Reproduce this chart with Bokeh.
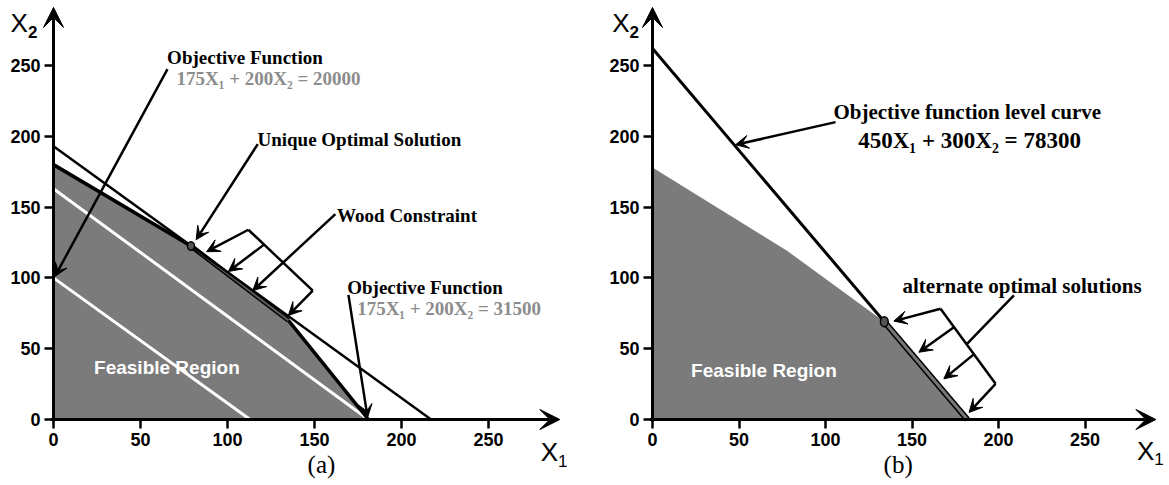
from bokeh.plotting import figure
from bokeh.layouts import row
from bokeh.models import Range1d, Arrow, VeeHead, Label, FixedTicker
from bokeh.embed import file_html
from bokeh.resources import INLINE

# ---------------- data ----------------
tick_values = [0, 50, 100, 150, 200, 250]
axis_end = 291

# panel (a)
a_region_x = [0, 0, 79, 135, 181]
a_region_y = [0, 180, 122.5, 70, 0]
a_top_edge_x = [0, 79]
a_top_edge_y = [180, 122.5]
a_wood_x = [79, 135]
a_wood_y = [122.5, 70]
a_low_edge_x = [135, 181]
a_low_edge_y = [70, 0]
a_obj_opt_x = [0, 217]
a_obj_opt_y = [193, 0]
a_obj_31500_x = [0, 181]
a_obj_31500_y = [163, 0]
a_obj_20000_x = [0, 113]
a_obj_20000_y = [100, 0]
a_opt_x = [79]
a_opt_y = [122.5]

# panel (b)
b_region_x = [0, 0, 78, 134, 182]
b_region_y = [0, 178, 119, 69, 0]
b_obj_x = [0, 134]
b_obj_y = [262, 69]
b_alt_x = [134, 182]
b_alt_y = [69, 0]
b_opt_x = [134]
b_opt_y = [69]

SERIF = "Liberation Serif"
SANS = "Liberation Sans"


def make_fig(width, origin_px, sx, sy=1.416, origin_py=419, height=485):
    # the frame fills the whole canvas; the axes sit at x=0 / y=0 inside it
    x0 = -origin_px / sx
    x1 = (width - origin_px) / sx
    y0 = -(height - origin_py) / sy
    y1 = origin_py / sy
    p = figure(width=width, height=height,
               x_range=Range1d(x0, x1), y_range=Range1d(y0, y1),
               output_backend="svg", toolbar_location=None,
               min_border_left=0, min_border_right=0,
               min_border_top=0, min_border_bottom=0)
    p.grid.visible = False
    p.outline_line_color = None
    p.background_fill_color = "white"
    p.xaxis.fixed_location = 0
    p.yaxis.fixed_location = 0
    for ax in (p.xaxis[0], p.yaxis[0]):
        ax.ticker = FixedTicker(ticks=tick_values)
        ax.axis_line_color = None
        ax.major_tick_out = 9
        ax.major_tick_in = 0
        ax.major_tick_line_width = 2.5
        ax.minor_tick_line_color = None
        ax.major_label_text_font = SANS
        ax.major_label_text_font_style = "bold"
        ax.major_label_text_font_size = "18px"
        ax.major_label_text_color = "black"
        ax.major_label_standoff = 4
    # axis lines with arrow heads
    p.add_layout(Arrow(end=VeeHead(size=20, fill_color="black", line_color="black"),
                       x_start=-1.5, y_start=0, x_end=axis_end, y_end=0,
                       line_width=3, line_color="black"))
    p.add_layout(Arrow(end=VeeHead(size=20, fill_color="black", line_color="black"),
                       x_start=0, y_start=-1.5, x_end=0, y_end=axis_end,
                       line_width=3, line_color="black"))
    return p


def axis_titles(p, x1_x, x1_y, x2_x, x2_y):
    p.add_layout(Label(x=x1_x, y=x1_y, text="X", text_font=SANS, text_font_size="26px",
                       text_baseline="middle", text_align="left", text_color="black"))
    p.add_layout(Label(x=x1_x + 10, y=x1_y - 6, text="1", text_font=SANS, text_font_size="17px",
                       text_baseline="middle", text_align="left", text_color="black"))
    p.add_layout(Label(x=x2_x, y=x2_y, text="X", text_font=SANS, text_font_size="26px",
                       text_baseline="middle", text_align="left", text_color="black"))
    p.add_layout(Label(x=x2_x + 10, y=x2_y - 6, text="2", text_font=SANS, text_font_size="17px",
                       text_font_style="bold", text_baseline="middle", text_align="left",
                       text_color="black"))


def txt(p, x, y, s, size="19px", color="black", font=SERIF, style="bold", align="left"):
    p.add_layout(Label(x=x, y=y, text=s, text_font=font, text_font_size=size,
                       text_font_style=style, text_color=color, text_baseline="middle",
                       text_align=align))


def arr(p, xs, ys, xe, ye, head=True, width=2.5):
    end = VeeHead(size=13, fill_color="black", line_color="black") if head else None
    p.add_layout(Arrow(end=end, x_start=xs, y_start=ys, x_end=xe, y_end=ye,
                       line_width=width, line_color="black"))


# ---------------- panel (a) ----------------
pa = make_fig(585, 53, 1.74)
pa.patch(a_region_x, a_region_y, fill_color="#7b7b7b", line_color=None)
pa.line(a_obj_20000_x, a_obj_20000_y, line_color="white", line_width=3)
pa.line(a_obj_31500_x, a_obj_31500_y, line_color="white", line_width=3)
pa.line(a_top_edge_x, a_top_edge_y, line_color="black", line_width=3.5)
pa.line(a_wood_x, a_wood_y, line_color="black", line_width=5)
pa.line(a_wood_x, a_wood_y, line_color="#5a5a5a", line_width=2)
pa.line(a_low_edge_x, a_low_edge_y, line_color="black", line_width=3.5)
pa.line(a_obj_opt_x, a_obj_opt_y, line_color="black", line_width=2.5)
pa.ellipse(a_opt_x, a_opt_y, width=4, height=6, fill_color="#555555", line_color="black",
           line_width=1.5)

txt(pa, 65.3, 255.5, "Objective Function")
txt(pa, 70.7, 240.5, "175X\u2081 + 200X\u2082 = 20000", color="#8c8c8c")
arr(pa, 65.5, 247.5, 0.8, 101)
txt(pa, 117.2, 198, "Unique Optimal Solution")
arr(pa, 117.4, 194.5, 82, 127)
txt(pa, 163, 144, "Wood Constraint")
# bracket
arr(pa, 112, 134, 149, 91, head=False)
arr(pa, 112, 134, 88, 118.5)
arr(pa, 121, 123.5, 100.5, 104.5)
arr(pa, 162, 145, 114.5, 91)
arr(pa, 149, 91, 135, 73.5)
txt(pa, 168.8, 93.4, "Objective Function")
txt(pa, 174.5, 78.2, "175X\u2081 + 200X\u2082 = 31500", color="#8c8c8c")
arr(pa, 169.5, 88, 180.5, 1.5)
txt(pa, 23.3, 36.9, "Feasible Region", size="19px", color="white", font=SANS, style="bold")
txt(pa, 154, -31.5, "(a)", size="25px", font=SERIF, style="normal", align="center")
axis_titles(pa, 280, -23.3, -24.7, 279.7)

# ---------------- panel (b) ----------------
pb = make_fig(584, 67, 1.73)
pb.patch(b_region_x, b_region_y, fill_color="#7b7b7b", line_color=None)
pb.line(b_obj_x, b_obj_y, line_color="black", line_width=3)
pb.line(b_alt_x, b_alt_y, line_color="black", line_width=6)
pb.line(b_alt_x, b_alt_y, line_color="#777777", line_width=3)
pb.ellipse(b_opt_x, b_opt_y, width=4.5, height=7, fill_color="#555555", line_color="black",
           line_width=1.5)

txt(pb, 104.6, 217, "Objective function level curve", size="21px")
txt(pb, 183.3, 197, "450X\u2081 + 300X\u2082 = 78300", size="23px", align="center")
arr(pb, 105.8, 210, 48, 194)
txt(pb, 144.5, 94.6, "alternate optimal solutions", size="21px")
arr(pb, 166.5, 78.2, 198.3, 25.2, head=False)
arr(pb, 166.5, 78.2, 139.5, 69.5)
arr(pb, 174.2, 65.2, 154, 47.5)
arr(pb, 185.7, 46, 168.4, 28.7)
arr(pb, 198.3, 25.2, 183, 5)
arr(pb, 208.9, 87.6, 181.5, 53, head=False)
txt(pb, 22.3, 34.6, "Feasible Region", size="19px", color="white", font=SANS, style="bold")
txt(pb, 142, -31.5, "(b)", size="25px", font=SERIF, style="normal", align="center")
axis_titles(pb, 280, -22, -23.3, 279.7)

layout = row(pa, pb, spacing=0)
open("out.html", "w").write(file_html(layout, INLINE))
